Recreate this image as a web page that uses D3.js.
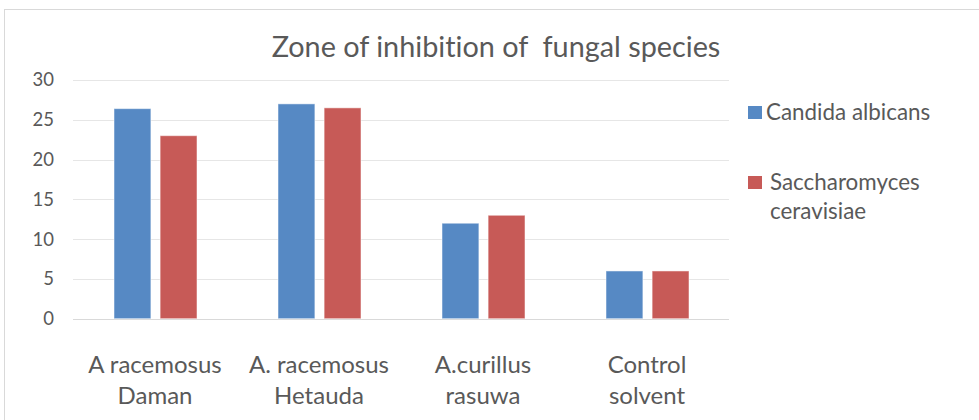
<!DOCTYPE html>
<html><head><meta charset="utf-8">
<script src="https://cdn.jsdelivr.net/npm/d3@7"></script>
<style>body{margin:0;background:#fff} text{font-variant-ligatures:none;font-feature-settings:"liga" 0}</style>
</head><body>
<svg id="c" width="979" height="420"></svg>
<script>
const categories = [["A racemosus","Daman"],["A. racemosus","Hetauda"],["A.curillus","rasuwa"],["Control","solvent"]];
const seriesNames = ["Candida albicans","Saccharomyces ceravisiae"];
const candida = [26.4, 27, 12, 6];
const saccharomyces = [23, 26.5, 13, 6];
const yTicks = [0,5,10,15,20,25,30];
const colors = ["#5689c4","#c75a57"];
const font = "Lato, sans-serif";
const txt = "#595959";

const svg = d3.select("#c");
svg.append("rect").attr("x",4.5).attr("y",9.5).attr("width",990).attr("height",420)
  .attr("fill","#fff").attr("stroke","#d9d9d9");

const x = d3.scaleBand().domain(d3.range(categories.length)).range([73,729]).paddingInner(0).paddingOuter(0);
const y = d3.scaleLinear().domain([0,30]).range([318.7,80]);
const xs = d3.scaleBand().domain([0,1]).range([41,124]).paddingOuter(0).paddingInner(0.2);

// gridlines
svg.append("g").selectAll("line").data(yTicks).join("line")
  .attr("x1",73).attr("x2",729).attr("y1",d=>Math.round(y(d))+0.5).attr("y2",d=>Math.round(y(d))+0.5)
  .attr("stroke",d=>d===0?"#d9d9d9":"#e6e6e6").attr("stroke-width",1);

// y axis labels
const yAxis = d3.axisLeft(y).tickValues(yTicks).tickSize(0).tickPadding(0);
const ya = svg.append("g").attr("transform","translate(54,0)").call(yAxis);
ya.select(".domain").remove();
ya.selectAll("text").attr("font-family",font).attr("font-size",18.5).attr("fill",txt);

const data = [candida, saccharomyces];
data.forEach((vals,si)=>{
  svg.append("g").selectAll("rect").data(vals).join("rect")
    .attr("x",(d,i)=>x(i)+xs(si))
    .attr("y",d=>y(d))
    .attr("width",xs.bandwidth())
    .attr("height",d=>y(0)-y(d))
    .attr("fill",colors[si])
    .attr("stroke","#ffffff").attr("stroke-opacity",0.5).attr("stroke-width",1);
});

// category labels
const cl = svg.append("g");
categories.forEach((lines,i)=>{
  const t = cl.append("text").attr("text-anchor","middle").attr("font-family",font)
    .attr("font-size",24).attr("fill",txt);
  lines.forEach((l,j)=>t.append("tspan").attr("x",x(i)+x.bandwidth()/2).attr("y",373+j*31).text(l));
});

// title
svg.append("text").attr("x",496).attr("y",57).attr("text-anchor","middle")
  .attr("font-family",font).attr("font-size",28.8).attr("fill",txt)
  .attr("xml:space","preserve")
  .text("Zone of inhibition of  fungal species");

// legend
const leg = svg.append("g");
leg.append("rect").attr("x",748).attr("y",106).attr("width",14).attr("height",13).attr("fill",colors[0]);
leg.append("text").attr("x",766).attr("y",120).attr("font-family",font).attr("font-size",22.4)
  .attr("fill",txt).text("Candida albicans");
leg.append("rect").attr("x",748).attr("y",176).attr("width",14).attr("height",13).attr("fill",colors[1]);
const lt = leg.append("text").attr("font-family",font).attr("font-size",22.4).attr("fill",txt);
const parts = seriesNames[1].split(" ");
lt.append("tspan").attr("x",770).attr("y",190).text(parts[0]);
lt.append("tspan").attr("x",770).attr("y",219).text(parts[1]);
</script>
</body></html>
